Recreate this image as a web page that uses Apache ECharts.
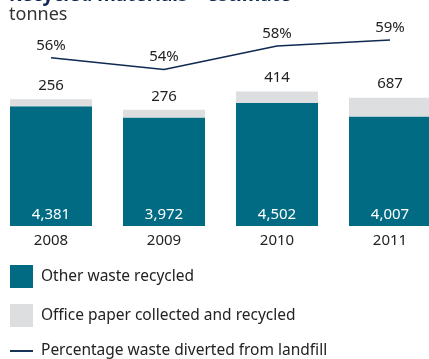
<!DOCTYPE html>
<html>
<head>
<meta charset="utf-8">
<script src="https://cdn.jsdelivr.net/npm/echarts@6/dist/echarts.min.js"></script>
<style>
  html, body { margin: 0; padding: 0; background: #fff; }
  #chart { width: 429px; height: 359px; }
</style>
</head>
<body>
<div id="chart"></div>
<script>
var years = ['2008', '2009', '2010', '2011'];
var otherWaste = [4381, 3972, 4502, 4007];
var officePaper = [256, 276, 414, 687];
var diverted = [56, 54, 58, 59];

var FONT = 'Noto Sans';
var TEAL = '#006b82';
var GREY = '#dddee0';
var NAVY = '#0e2a50';

var dom = document.getElementById('chart');
var myChart = echarts.init(dom);
var option;

option = {
  animation: false,
  textStyle: { fontFamily: FONT },
  title: [
    {
      text: 'Recycled materials \u2013 estimate',
      left: 9,
      top: -16.3,
      padding: 0,
      textStyle: { fontFamily: FONT, fontSize: 19, fontWeight: 'bold', color: NAVY, lineHeight: 24 }
    },
    {
      text: 'tonnes',
      left: 9,
      top: 6,
      padding: 0,
      textStyle: { fontFamily: FONT, fontSize: 18, fontWeight: 'normal', color: '#333' }
    }
  ],
  grid: {
    left: -5.5,
    right: -17.5,
    top: 10,
    bottom: 133,
    outerBoundsMode: 'none'
  },
  legend: {
    orient: 'vertical',
    left: 10,
    top: 265,
    padding: 0,
    itemWidth: 23,
    itemHeight: 23,
    itemGap: 16,
    textStyle: { fontFamily: FONT, fontSize: 15.5, color: '#222', padding: [0, 0, 0, 3] },
    data: [
      { name: 'Other waste recycled', icon: 'rect' },
      { name: 'Office paper collected and recycled', icon: 'rect' },
      { name: 'Percentage waste diverted from landfill', icon: 'path://M0,0 L24,0 L24,2 L0,2 Z' }
    ]
  },
  xAxis: {
    type: 'category',
    data: years,
    axisLine: { show: false },
    axisTick: { show: false },
    axisLabel: { fontFamily: FONT, fontSize: 15, color: '#222', margin: 7 }
  },
  yAxis: [
    { type: 'value', min: 0, max: 7900, show: false, splitLine: { show: false } },
    { type: 'value', min: 27.5, max: 64.1, show: false, splitLine: { show: false } }
  ],
  series: [
    {
      name: 'Other waste recycled',
      type: 'bar',
      stack: 'total',
      barWidth: 82,
      data: otherWaste,
      itemStyle: { color: TEAL },
      label: {
        show: true,
        position: 'insideBottom',
        distance: 4,
        fontFamily: FONT,
        fontSize: 15,
        color: '#fff',
        formatter: function (p) { return p.value.toLocaleString('en-US'); }
      }
    },
    {
      name: 'Office paper collected and recycled',
      type: 'bar',
      stack: 'total',
      barWidth: 82,
      data: officePaper,
      itemStyle: { color: GREY },
      label: {
        show: true,
        position: 'top',
        distance: 6,
        fontFamily: FONT,
        fontSize: 15,
        color: '#222'
      }
    },
    {
      name: 'Percentage waste diverted from landfill',
      type: 'line',
      yAxisIndex: 1,
      data: diverted,
      symbol: 'circle',
      symbolSize: 0.1,
      lineStyle: { color: NAVY, width: 1.5 },
      itemStyle: { color: NAVY },
      label: {
        show: true,
        position: 'top',
        distance: 5,
        fontFamily: FONT,
        fontSize: 15,
        color: '#222',
        formatter: '{c}%'
      }
    }
  ]
};

if (option && typeof option === 'object') {
  myChart.setOption(option);
}
</script>
</body>
</html>
